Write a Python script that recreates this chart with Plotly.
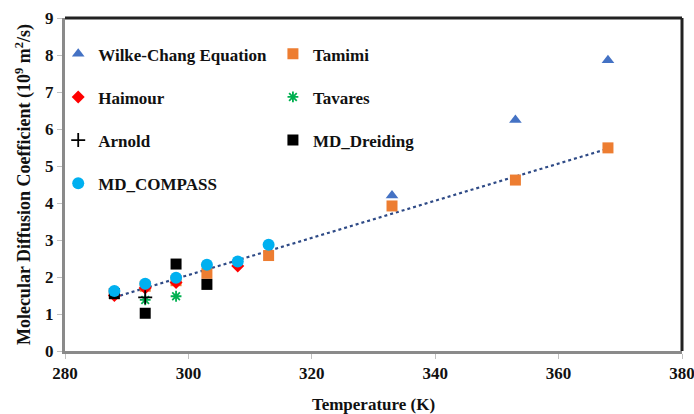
import numpy as np
import plotly.graph_objects as go

# Temperatures (K) and diffusion coefficients (10^-9 m^2/s) for each source
wilke_T = [333, 353, 368]
wilke_D = [4.2, 6.24, 7.86]

tamimi_T = [288, 293, 298, 303, 313, 333, 353, 368]
tamimi_D = [1.55, 1.75, 1.9, 2.1, 2.58, 3.92, 4.62, 5.49]

haimour_T = [288, 293, 298, 308]
haimour_D = [1.5, 1.7, 1.85, 2.3]

tavares_T = [293, 298]
tavares_D = [1.38, 1.48]

arnold_T = [293]
arnold_D = [1.45]

dreiding_T = [288, 293, 298, 303]
dreiding_D = [1.55, 1.02, 2.35, 1.8]

compass_T = [288, 293, 298, 303, 308, 313]
compass_D = [1.62, 1.82, 1.98, 2.33, 2.42, 2.87]

x_ticks = [280, 300, 320, 340, 360, 380]
y_ticks = list(range(0, 10))

FONT = "Liberation Serif"
INK = "#111111"

fig = go.Figure()

def add(name, T, D, symbol, color, size, legend, group, line_w=0):
    fig.add_trace(go.Scatter(
        x=T, y=D, mode="markers", name=name,
        marker=dict(symbol=symbol, color=color, size=size,
                    line=dict(width=line_w, color=color)),
        legend=legend, legendgroup=group,
    ))

# Linear trendline through the Tamimi data
coef = np.polyfit(tamimi_T, tamimi_D, 1)
tx = np.array([min(tamimi_T), max(tamimi_T)])
fig.add_trace(go.Scatter(
    x=tx, y=np.polyval(coef, tx), mode="lines", showlegend=False,
    line=dict(color="#2E4A86", width=2.2, dash="dot"), hoverinfo="skip",
))

add("Wilke-Chang Equation", wilke_T, wilke_D, "triangle-up", "#4472C4", 11, "legend", "g1")
add("Tamimi", tamimi_T, tamimi_D, "square", "#ED7D31", 11, "legend2", "g2")
add("Haimour", haimour_T, haimour_D, "diamond", "#FF0000", 10, "legend", "g3")
add("Tavares", tavares_T, tavares_D, "asterisk-open", "#00B050", 9, "legend2", "g4", 1.8)
add("Arnold", arnold_T, arnold_D, "cross-thin-open", "#000000", 10, "legend", "g5", 1.8)
add("MD_Dreiding", dreiding_T, dreiding_D, "square", "#000000", 11, "legend2", "g6")
add("MD_COMPASS", compass_T, compass_D, "circle", "#00B0F0", 12, "legend", "g7")

legend_common = dict(
    font=dict(family=FONT, size=17, color=INK, weight="bold"),
    bgcolor="rgba(0,0,0,0)", traceorder="grouped", tracegroupgap=18,
    xanchor="left", yanchor="top", itemwidth=30,
)

tick_font = dict(family=FONT, size=17, color=INK, weight="bold")

fig.update_layout(
    width=694, height=414,
    margin=dict(l=65, r=12, t=18, b=63),
    paper_bgcolor="white", plot_bgcolor="white",
    font=dict(family=FONT, size=16, color=INK),
    legend=dict(x=-0.011, y=0.945, **legend_common),
    legend2=dict(x=0.337, y=0.945, **legend_common),
    xaxis=dict(
        range=[280, 380], tickvals=x_ticks, showgrid=False, zeroline=False,
        showline=True, linecolor="#8a8a8a", linewidth=3,
        ticks="outside", ticklen=5, tickcolor="#c0c0c0",
        tickfont=tick_font, ticklabeloverflow="allow", automargin=False,
        title=dict(text="<b>Temperature (K)</b>", standoff=22,
                   font=dict(family=FONT, size=17, color=INK)),
    ),
    yaxis=dict(
        range=[0, 9], tickvals=y_ticks, showgrid=False, zeroline=False,
        showline=True, linecolor="#8a8a8a", linewidth=3,
        ticks="outside", ticklen=5, tickcolor="#c0c0c0",
        tickfont=tick_font, automargin=False,
        title=dict(text="<b>Molecular Diffusion Coefficient (10<sup>9</sup> m<sup>2</sup>/s)</b>",
                   standoff=10, font=dict(family=FONT, size=18, color=INK)),
    ),
    shapes=[
        # dark top and right borders of the plotting frame
        dict(type="line", xref="paper", yref="paper", x0=0, x1=1, y0=1, y1=1,
             line=dict(color="#222222", width=3)),
        dict(type="line", xref="paper", yref="paper", x0=1, x1=1, y0=0, y1=1,
             line=dict(color="#222222", width=3)),
    ],
)

fig.write_html("out.html")
